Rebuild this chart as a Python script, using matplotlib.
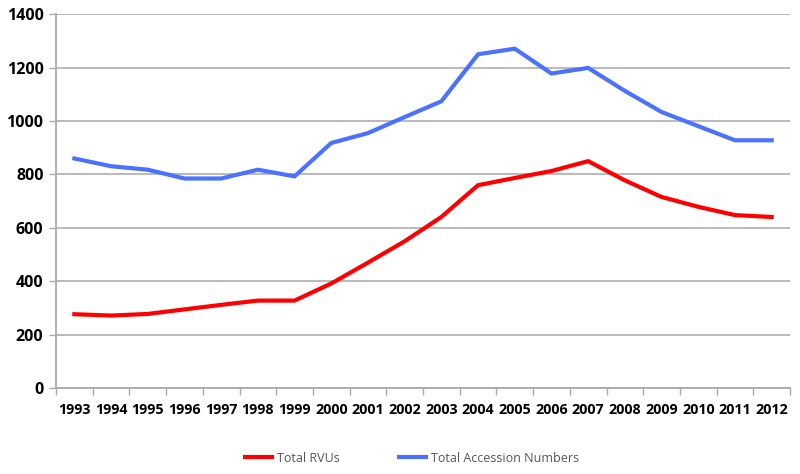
import matplotlib.pyplot as plt

# Data
years = [str(y) for y in range(1993, 2013)]
total_rvus = [277, 272, 278, 295, 312, 328, 328, 392, 470, 550,
              641, 760, 787, 813, 850, 778, 716, 679, 648, 641]
total_accessions = [860, 831, 818, 785, 785, 818, 793, 918, 955, 1015,
                    1074, 1250, 1271, 1178, 1199, 1113, 1034, 981, 928, 928]
y_ticks = [0, 200, 400, 600, 800, 1000, 1200, 1400]

plt.rcParams['font.family'] = ['Open Sans', 'DejaVu Sans']

fig = plt.figure(figsize=(8, 4.74), dpi=100)
ax = fig.add_axes([0.07, 0.181, 0.9175, 0.789])

x = list(range(len(years)))
ax.plot(x, total_rvus, color='#ff0000', lw=3, label='Total RVUs',
        solid_joinstyle='round')
ax.plot(x, total_accessions, color='#4a72ff', lw=3, label='Total Accession Numbers',
        solid_joinstyle='round')

ax.set_xlim(-0.5, len(years) - 0.5)
ax.set_ylim(0, 1400)
ax.set_yticks(y_ticks)
ax.set_yticklabels([str(v) for v in y_ticks], fontsize=11.5, fontweight='bold')
ax.set_xticks(x)
ax.set_xticklabels(years, fontsize=10.3, fontweight='bold')
ax.set_xticks([i - 0.5 for i in range(len(years) + 1)], minor=True)
ax.tick_params(axis='x', which='major', length=0, pad=11)
ax.tick_params(axis='x', which='minor', length=5, color='#aaaaaa', width=1)
ax.tick_params(axis='y', length=5, color='#aaaaaa', width=1, pad=4)

ax.grid(axis='y', color='#b4b4b4', lw=1.3)
ax.set_axisbelow(True)
for side in ['top', 'right']:
    ax.spines[side].set_visible(False)
for side in ['left', 'bottom']:
    ax.spines[side].set_color('#aaaaaa')
    ax.spines[side].set_linewidth(1.3)

fig.legend(loc='center', bbox_to_anchor=(0.515, 0.033), ncol=2, frameon=False,
           fontsize=9, handlelength=2.1, handletextpad=0.4, columnspacing=4.8,
           labelcolor='#555555')

plt.savefig('out.png', dpi=100)
